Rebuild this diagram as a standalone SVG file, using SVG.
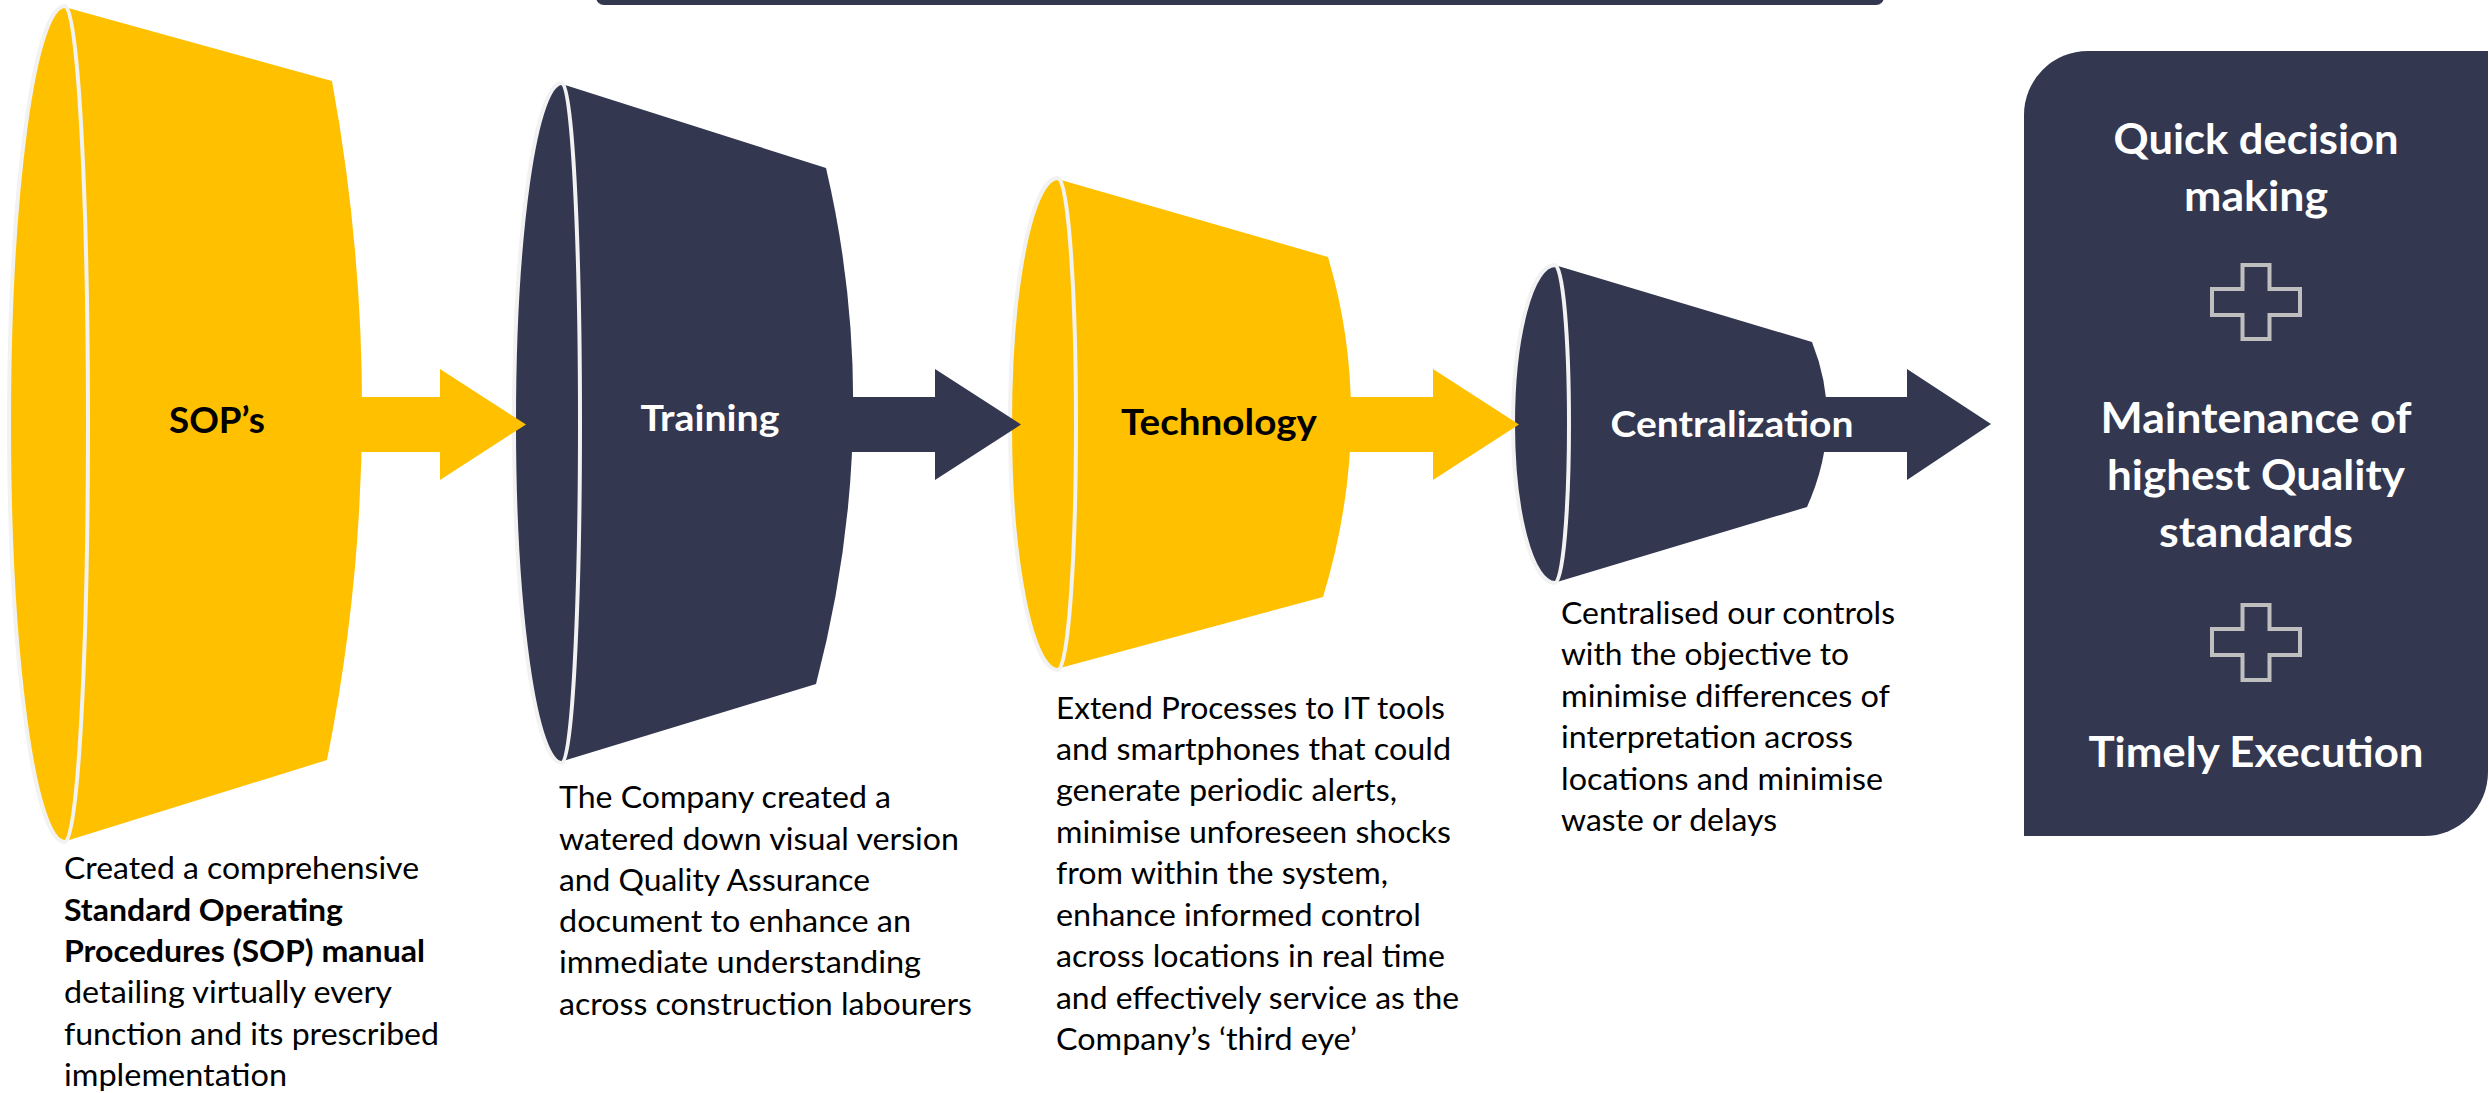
<svg xmlns="http://www.w3.org/2000/svg" width="2489" height="1093" viewBox="0 0 2489 1093">
  <style>
    .yel { fill: #FFC000; }
    .dark { fill: #333750; }
    .rim { stroke: #F2F2F2; stroke-width: 4; }
    .body { font-family: Lato, "Liberation Sans", sans-serif; font-size: 31px; fill: #000000; }
    .b { font-weight: bold; }
    .lbl { font-family: Lato, "Liberation Sans", sans-serif; font-size: 37px; font-weight: bold; text-anchor: middle; }
    .pnl { font-family: Lato, "Liberation Sans", sans-serif; font-size: 42px; font-weight: bold; fill: #FFFFFF; text-anchor: middle; }
    .plus { fill: #333750; stroke: #BFBFBF; stroke-width: 4; }
  </style>
  <rect width="2489" height="1093" fill="#FFFFFF"/>

  <g id="top-bar">
    <rect class="dark" x="596" y="-20" width="1288" height="25" rx="8"/>
  </g>

  <g id="node-sop">
    <path class="yel" d="M 68,8 L 332,81 Q 394.5,423.5 327,760 L 66,841 Z"/>
    <path class="yel rim" d="M 65,6 A 56 418 0 0 0 65,842 A 23 418 0 0 0 65,6 Z"/>
    <text class="lbl" x="217" y="433" fill="#000000" textLength="96" lengthAdjust="spacingAndGlyphs">SOP’s</text>
  </g>

  <g id="node-training">
    <path class="dark" d="M 565,85 L 826,168 Q 885,420 816,684 L 563,761 Z"/>
    <path class="dark rim" d="M 562,83 A 48 340 0 0 0 562,763 A 18 340 0 0 0 562,83 Z"/>
    <text class="lbl" x="710" y="431" fill="#FFFFFF" textLength="139" lengthAdjust="spacingAndGlyphs">Training</text>
  </g>

  <g id="node-technology">
    <path class="yel" d="M 1061,180 L 1328,257 Q 1376.5,421 1323,597 L 1060,668 Z"/>
    <path class="yel rim" d="M 1058,178 A 48 246 0 0 0 1058,670 A 18 246 0 0 0 1058,178 Z"/>
    <text class="lbl" x="1219" y="435" fill="#000000" textLength="196" lengthAdjust="spacingAndGlyphs">Technology</text>
  </g>

  <g id="node-centralization">
    <path class="dark" d="M 1558,266 L 1812,342 Q 1844.5,423.5 1807,507 L 1557,582 Z"/>
    <rect class="dark" x="1815" y="397" width="44" height="55"/>
    <path class="dark rim" d="M 1555,265 A 42 159 0 0 0 1555,583 A 14 159 0 0 0 1555,265 Z"/>
    <text class="lbl" x="1732" y="437" fill="#FFFFFF" textLength="243" lengthAdjust="spacingAndGlyphs">Centralization</text>
  </g>

  <g id="connectors">
    <path class="yel" d="M 350,397 H 440 V 369 L 526,424.5 L 440,480 V 452 H 350 Z"/>
    <path class="dark" d="M 845,397 H 935 V 369 L 1021,424.5 L 935,480 V 452 H 845 Z"/>
    <path class="yel" d="M 1345,397 H 1433 V 369 L 1519,424.5 L 1433,480 V 452 H 1345 Z"/>
    <path class="dark" d="M 1857,397 H 1907 V 369 L 1991,424 L 1907,480 V 452 H 1857 Z"/>
  </g>

  <g id="node-result">
    <path class="dark" d="M 2088,51 H 2488 V 772 A 64 64 0 0 1 2424,836 H 2024 V 115 A 64 64 0 0 1 2088,51 Z"/>
    <text class="pnl" x="2256" y="154" textLength="285" lengthAdjust="spacingAndGlyphs">Quick decision</text>
    <text class="pnl" x="2256" y="211" textLength="144" lengthAdjust="spacingAndGlyphs">making</text>
    <path class="plus" d="M 2242.5,265 H 2269.5 V 289 H 2300 V 315 H 2269.5 V 339 H 2242.5 V 315 H 2212 V 289 H 2242.5 Z"/>
    <text class="pnl" x="2256" y="433" textLength="311" lengthAdjust="spacingAndGlyphs">Maintenance of</text>
    <text class="pnl" x="2256" y="490" textLength="298" lengthAdjust="spacingAndGlyphs">highest Quality</text>
    <text class="pnl" x="2256" y="547" textLength="194" lengthAdjust="spacingAndGlyphs">standards</text>
    <path class="plus" d="M 2242.5,605 H 2269.5 V 629 H 2300 V 655 H 2269.5 V 680 H 2242.5 V 655 H 2212 V 629 H 2242.5 Z"/>
    <text class="pnl" x="2256" y="767" textLength="335" lengthAdjust="spacingAndGlyphs">Timely Execution</text>
  </g>

  <g id="desc-sop">
    <text class="body" x="64" y="879" textLength="355" lengthAdjust="spacingAndGlyphs">Created a comprehensive</text>
    <text class="body b" x="64" y="920.5" textLength="279" lengthAdjust="spacingAndGlyphs">Standard Operating</text>
    <text class="body b" x="64" y="962" textLength="361" lengthAdjust="spacingAndGlyphs">Procedures (SOP) manual</text>
    <text class="body" x="64" y="1003" textLength="328" lengthAdjust="spacingAndGlyphs">detailing virtually every</text>
    <text class="body" x="64" y="1044.5" textLength="375" lengthAdjust="spacingAndGlyphs">function and its prescribed</text>
    <text class="body" x="64" y="1086" textLength="223" lengthAdjust="spacingAndGlyphs">implementation</text>
  </g>

  <g id="desc-training">
    <text class="body" x="559" y="808" textLength="332" lengthAdjust="spacingAndGlyphs">The Company created a</text>
    <text class="body" x="559" y="849.5" textLength="400" lengthAdjust="spacingAndGlyphs">watered down visual version</text>
    <text class="body" x="559" y="891" textLength="311" lengthAdjust="spacingAndGlyphs">and Quality Assurance</text>
    <text class="body" x="559" y="932" textLength="352" lengthAdjust="spacingAndGlyphs">document to enhance an</text>
    <text class="body" x="559" y="973" textLength="362" lengthAdjust="spacingAndGlyphs">immediate understanding</text>
    <text class="body" x="559" y="1015" textLength="413" lengthAdjust="spacingAndGlyphs">across construction labourers</text>
  </g>

  <g id="desc-technology">
    <text class="body" x="1056" y="718.5" textLength="389" lengthAdjust="spacingAndGlyphs">Extend Processes to IT tools</text>
    <text class="body" x="1056" y="759.5" textLength="395" lengthAdjust="spacingAndGlyphs">and smartphones that could</text>
    <text class="body" x="1056" y="801" textLength="341" lengthAdjust="spacingAndGlyphs">generate periodic alerts,</text>
    <text class="body" x="1056" y="842.5" textLength="395" lengthAdjust="spacingAndGlyphs">minimise unforeseen shocks</text>
    <text class="body" x="1056" y="884" textLength="332" lengthAdjust="spacingAndGlyphs">from within the system,</text>
    <text class="body" x="1056" y="925.5" textLength="365" lengthAdjust="spacingAndGlyphs">enhance informed control</text>
    <text class="body" x="1056" y="967" textLength="389" lengthAdjust="spacingAndGlyphs">across locations in real time</text>
    <text class="body" x="1056" y="1008.5" textLength="403" lengthAdjust="spacingAndGlyphs">and effectively service as the</text>
    <text class="body" x="1056" y="1050" textLength="301" lengthAdjust="spacingAndGlyphs">Company’s ‘third eye’</text>
  </g>

  <g id="desc-centralization">
    <text class="body" x="1561" y="623.5" textLength="334" lengthAdjust="spacingAndGlyphs">Centralised our controls</text>
    <text class="body" x="1561" y="665" textLength="288" lengthAdjust="spacingAndGlyphs">with the objective to</text>
    <text class="body" x="1561" y="706.5" textLength="329" lengthAdjust="spacingAndGlyphs">minimise differences of</text>
    <text class="body" x="1561" y="748" textLength="292" lengthAdjust="spacingAndGlyphs">interpretation across</text>
    <text class="body" x="1561" y="789.5" textLength="322" lengthAdjust="spacingAndGlyphs">locations and minimise</text>
    <text class="body" x="1561" y="831" textLength="216" lengthAdjust="spacingAndGlyphs">waste or delays</text>
  </g>
</svg>
